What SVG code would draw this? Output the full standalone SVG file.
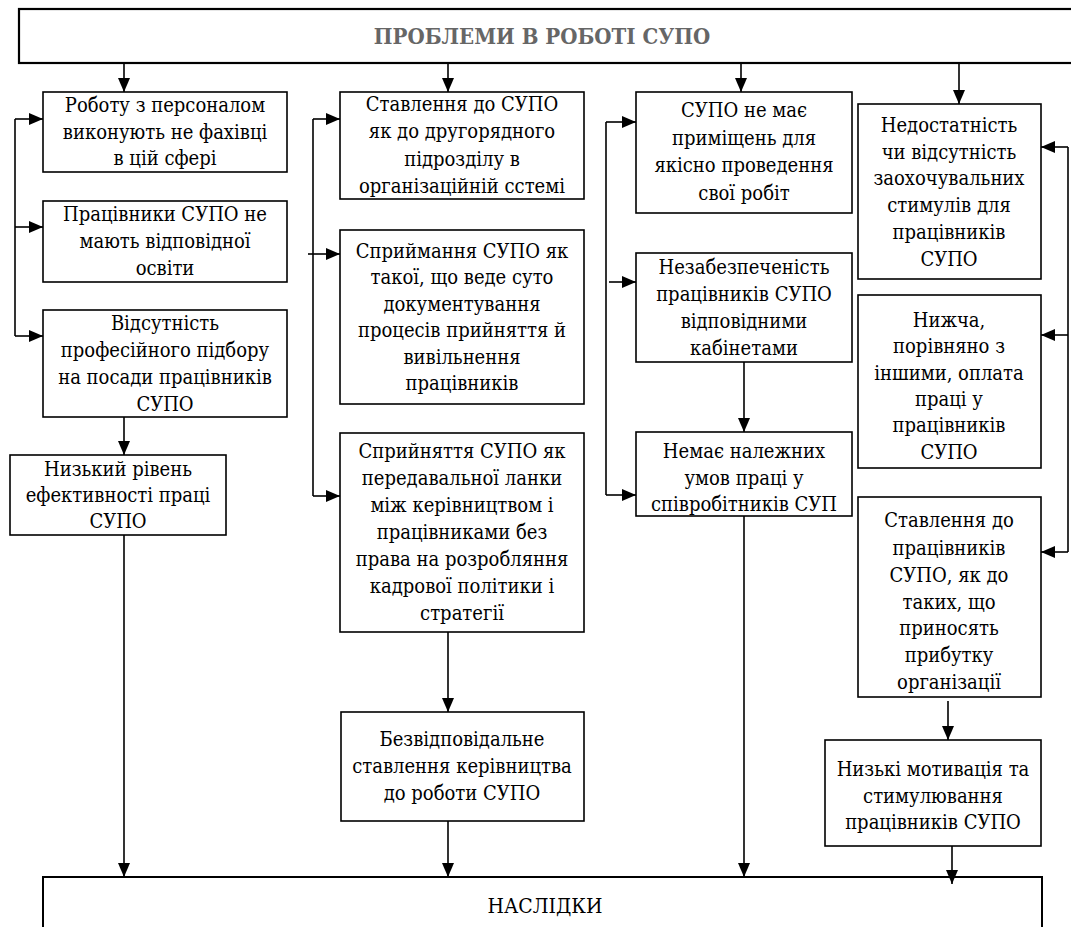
<svg xmlns="http://www.w3.org/2000/svg" width="1071" height="927" viewBox="0 0 1071 927">
<style>
.box{fill:#fff;stroke:#000;stroke-width:1.6}
.t{font-family:"DejaVu Serif Condensed","DejaVu Serif","Liberation Serif",serif;font-size:20px;fill:#000;text-anchor:middle}
.title{font-family:"DejaVu Serif Condensed","DejaVu Serif","Liberation Serif",serif;font-size:22px;font-weight:bold;fill:#666;text-anchor:middle}
.c{fill:none;stroke:#000;stroke-width:1.6}
</style>
<defs>
<marker id="ah" markerUnits="userSpaceOnUse" markerWidth="14" markerHeight="12" refX="14" refY="6" orient="auto"><path d="M0,0 L14,6 L0,12 z" fill="#000"/></marker>
</defs>
<rect width="1071" height="927" fill="#fff"/>
<g id="top"><rect class="box" x="19" y="9" width="1060" height="54" style="stroke-width:2.2"/><text class="title" x="542" y="44">ПРОБЛЕМИ В РОБОТІ СУПО</text></g>
<g id="bottom"><rect class="box" x="43" y="877" width="999" height="60" style="stroke-width:2"/><text class="t" x="545" y="913" style="font-size:21px">НАСЛІДКИ</text></g>

<g id="n1"><rect class="box" x="43" y="92" width="244" height="80"/><text class="t" x="165" y="112">Роботу з персоналом</text><text class="t" x="165" y="139">виконують не фахівці</text><text class="t" x="165" y="165">в цій сфері</text></g>
<g id="n2"><rect class="box" x="43" y="201" width="244" height="81"/><text class="t" x="165" y="221">Працівники СУПО не</text><text class="t" x="165" y="248">мають відповідної</text><text class="t" x="165" y="275">освіти</text></g>
<g id="n3"><rect class="box" x="43" y="310" width="244" height="107"/><text class="t" x="165" y="330">Відсутність</text><text class="t" x="165" y="357">професійного підбору</text><text class="t" x="165" y="384">на посади працівників</text><text class="t" x="165" y="411">СУПО</text></g>
<g id="n4"><rect class="box" x="10" y="455" width="216" height="80"/><text class="t" x="118" y="476">Низький рівень</text><text class="t" x="118" y="502">ефективності праці</text><text class="t" x="118" y="528">СУПО</text></g>

<g id="n5"><rect class="box" x="340" y="92" width="244" height="107"/><text class="t" x="462" y="111">Ставлення до СУПО</text><text class="t" x="462" y="138">як до другорядного</text><text class="t" x="462" y="166">підрозділу в</text><text class="t" x="462" y="193">організаційній сстемі</text></g>
<g id="n6"><rect class="box" x="340" y="230" width="244" height="174"/><text class="t" x="462" y="258">Сприймання СУПО як</text><text class="t" x="462" y="284">такої, що веде суто</text><text class="t" x="462" y="311">документування</text><text class="t" x="462" y="337">процесів прийняття й</text><text class="t" x="462" y="364">вивільнення</text><text class="t" x="462" y="390">працівників</text></g>
<g id="n7"><rect class="box" x="340" y="433" width="244" height="199"/><text class="t" x="462" y="458">Сприйняття СУПО як</text><text class="t" x="462" y="485">передавальної ланки</text><text class="t" x="462" y="512">між керівництвом і</text><text class="t" x="462" y="539">працівниками без</text><text class="t" x="462" y="566">права на розробляння</text><text class="t" x="462" y="593">кадрової політики і</text><text class="t" x="462" y="620">стратегії</text></g>
<g id="n8"><rect class="box" x="341" y="712" width="243" height="109"/><text class="t" x="462" y="746">Безвідповідальне</text><text class="t" x="462" y="773">ставлення керівництва</text><text class="t" x="462" y="800">до роботи СУПО</text></g>

<g id="n9"><rect class="box" x="636" y="92" width="216" height="121"/><text class="t" x="744" y="117">СУПО не має</text><text class="t" x="744" y="145">приміщень для</text><text class="t" x="744" y="172">якісно проведення</text><text class="t" x="744" y="200">свої робіт</text></g>
<g id="n10"><rect class="box" x="636" y="253" width="216" height="109"/><text class="t" x="744" y="274">Незабезпеченість</text><text class="t" x="744" y="301">працівників СУПО</text><text class="t" x="744" y="328">відповідними</text><text class="t" x="744" y="355">кабінетами</text></g>
<g id="n11"><rect class="box" x="636" y="432" width="216" height="84"/><text class="t" x="744" y="458">Немає належних</text><text class="t" x="744" y="485">умов праці у</text><text class="t" x="744" y="511">співробітників СУП</text></g>

<g id="n12"><rect class="box" x="858" y="104" width="183" height="175"/><text class="t" x="949" y="132">Недостатність</text><text class="t" x="949" y="159">чи відсутність</text><text class="t" x="949" y="185">заохочувальних</text><text class="t" x="949" y="212">стимулів для</text><text class="t" x="949" y="239">працівників</text><text class="t" x="949" y="266">СУПО</text></g>
<g id="n13"><rect class="box" x="858" y="295" width="183" height="173"/><text class="t" x="949" y="327">Нижча,</text><text class="t" x="949" y="353">порівняно з</text><text class="t" x="949" y="380">іншими, оплата</text><text class="t" x="949" y="406">праці у</text><text class="t" x="949" y="432">працівників</text><text class="t" x="949" y="459">СУПО</text></g>
<g id="n14"><rect class="box" x="858" y="497" width="183" height="200"/><text class="t" x="949" y="527">Ставлення до</text><text class="t" x="949" y="555">працівників</text><text class="t" x="949" y="582">СУПО, як до</text><text class="t" x="949" y="609">таких, що</text><text class="t" x="949" y="635">приносять</text><text class="t" x="949" y="662">прибутку</text><text class="t" x="949" y="689">організації</text></g>
<g id="n15"><rect class="box" x="825" y="740" width="216" height="106"/><text class="t" x="933" y="776">Низькі мотивація та</text><text class="t" x="933" y="803">стимулювання</text><text class="t" x="933" y="829">працівників СУПО</text></g>

<g id="connectors" class="c">
<line x1="124" y1="63" x2="124" y2="92" marker-end="url(#ah)"/>
<line x1="448" y1="63" x2="448" y2="92" marker-end="url(#ah)"/>
<line x1="741" y1="63" x2="741" y2="92" marker-end="url(#ah)"/>
<line x1="959" y1="63" x2="959" y2="104" marker-end="url(#ah)"/>
<polyline points="15,119 15,336"/>
<line x1="15" y1="119" x2="43" y2="119" marker-end="url(#ah)"/>
<line x1="15" y1="227" x2="43" y2="227" marker-end="url(#ah)"/>
<line x1="15" y1="336" x2="43" y2="336" marker-end="url(#ah)"/>
<line x1="124" y1="417" x2="124" y2="455" marker-end="url(#ah)"/>
<line x1="124" y1="535" x2="124" y2="877" marker-end="url(#ah)"/>
<polyline points="313,119 313,496"/>
<line x1="313" y1="119" x2="340" y2="119" marker-end="url(#ah)"/>
<line x1="308" y1="254" x2="340" y2="254" marker-end="url(#ah)"/>
<line x1="313" y1="496" x2="340" y2="496" marker-end="url(#ah)"/>
<line x1="448" y1="632" x2="448" y2="712" marker-end="url(#ah)"/>
<line x1="448" y1="821" x2="448" y2="877" marker-end="url(#ah)"/>
<polyline points="606,122 606,495"/>
<line x1="606" y1="122" x2="636" y2="122" marker-end="url(#ah)"/>
<line x1="609" y1="282" x2="636" y2="282" marker-end="url(#ah)"/>
<line x1="606" y1="495" x2="636" y2="495" marker-end="url(#ah)"/>
<line x1="744" y1="362" x2="744" y2="432" marker-end="url(#ah)"/>
<line x1="744" y1="516" x2="744" y2="877" marker-end="url(#ah)"/>
<polyline points="1068,147 1068,552"/>
<line x1="1068" y1="147" x2="1041" y2="147" marker-end="url(#ah)"/>
<line x1="1068" y1="335" x2="1041" y2="335" marker-end="url(#ah)"/>
<line x1="1068" y1="552" x2="1041" y2="552" marker-end="url(#ah)"/>
<line x1="948" y1="701" x2="948" y2="740" marker-end="url(#ah)"/>
<line x1="952" y1="846" x2="952" y2="884" marker-end="url(#ah)"/>
</g>
</svg>
